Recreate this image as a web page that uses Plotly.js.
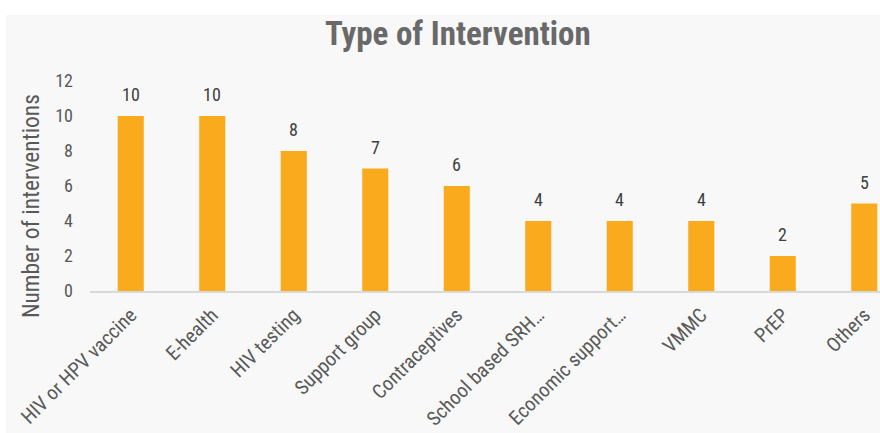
<!DOCTYPE html>
<html><head><meta charset="utf-8">
<script src="https://cdn.plot.ly/plotly-3.0.1.min.js"></script>
<style>
html,body{margin:0;padding:0;background:#ffffff;}
#chart{position:absolute;left:6px;top:15px;width:874px;height:418px;}
</style></head>
<body><div id="chart"></div>
<script>
const categories = ["HIV or HPV vaccine","E-health","HIV testing","Support group","Contraceptives","School based SRH…","Economic support…","VMMC","PrEP","Others"];
const counts = [10,10,8,7,6,4,4,4,2,5];
const yTicks = [0,2,4,6,8,10,12];

const FONT = '"Roboto Condensed","Liberation Sans Narrow","DejaVu Sans Condensed","Arial Narrow",Roboto,sans-serif';

const trace = {
  type:'bar', x: categories, y: counts,
  marker:{color:'#f9ab1d'},
  hoverinfo:'skip'
};

const labelAnns = categories.map((c,i)=>({
  x:c, y:counts[i], xref:'x', yref:'y', text:String(counts[i]),
  showarrow:false, yanchor:'bottom', yshift:9,
  font:{family:FONT,size:18,color:'#404040'}
}));

const layout = {
  width:874, height:418,
  margin:{l:84,r:0,t:66,b:142},
  paper_bgcolor:'#f8f8f8', plot_bgcolor:'#f8f8f8',
  bargap:0.68,
  showlegend:false,
  title:{text:'<b>Type of Intervention</b>', x:0.517, xanchor:'center', y:0.955, yanchor:'middle',
    font:{family:FONT,size:33,color:'#696969'}},
  xaxis:{type:'category', range:[-0.5,9.193], showgrid:false, zeroline:false,
    showline:true, linecolor:'#d9d9d9', linewidth:1.5, ticks:'', tickangle:-45,
    ticklabelstandoff:3,
    tickfont:{family:FONT,size:20,color:'#595959'}, fixedrange:true},
  yaxis:{range:[0,12], tickvals:yTicks, showgrid:false, zeroline:false, showline:false,
    ticks:'', ticklabelstandoff:16,
    tickfont:{family:FONT,size:18,color:'#595959'}, fixedrange:true},
  annotations: labelAnns.concat([{
    text:'Number of interventions', xref:'paper', yref:'paper',
    x:-0.0745, y:0.405, xanchor:'center', yanchor:'middle', textangle:-90, showarrow:false,
    font:{family:FONT,size:23.5,color:'#595959'}
  }])
};
Plotly.newPlot('chart',[trace],layout,{displayModeBar:false,staticPlot:true});
</script></body></html>
